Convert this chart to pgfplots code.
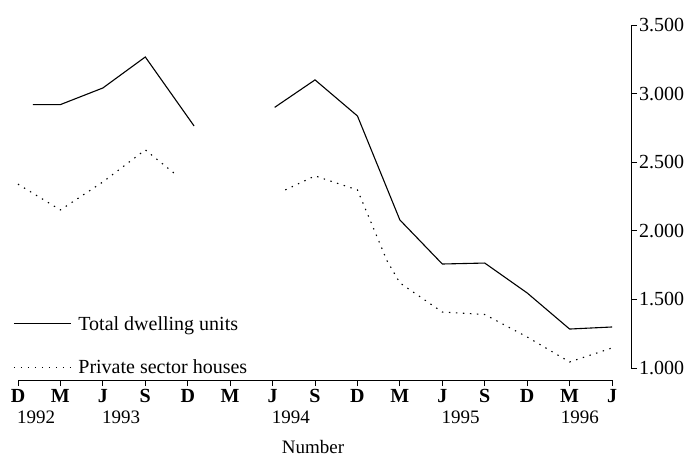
\documentclass[border=0pt]{standalone}
\usepackage{fontspec}
\setmainfont{Liberation Serif}
\usepackage{pgfplots}
\pgfplotsset{compat=1.18}

\begin{document}
\begin{tikzpicture}[font=\fontsize{20}{23}\selectfont]
\begin{axis}[
  at={(18pt,-380pt)}, anchor=south west,
  scale only axis, width=613pt, height=355pt,
  xmin=0, xmax=14.447, ymin=912.5, ymax=3500,
  clip=false,
  axis x line*=bottom, axis y line*=right,
  axis line style={draw=none},
  tick align=outside, major tick length=6pt,
  tick style={black, line width=0.8pt},
  xtick={0,...,14},
  xticklabels={D,M,J,S,D,M,J,S,D,M,J,S,D,M,J},
  x tick label style={font=\fontsize{20}{23}\selectfont\bfseries, anchor=north, inner sep=0pt, yshift=-3pt},
  ytick={1000,1500,2000,2500,3000,3500},
  yticklabels={1.000,1.500,2.000,2.500,3.000,3.500},
  y tick label style={font=\fontsize{20}{23}\selectfont, anchor=west, inner sep=0pt, xshift=2pt},
  extra x ticks={0,2,6,10,13},
  extra x tick labels={1992,1993,1994,1995,\kern-8pt1996},
  extra x tick style={major tick length=0pt,
    x tick label style={font=\fontsize{19}{22}\selectfont\mdseries, anchor=north west, inner sep=0pt, xshift=-1pt, yshift=-28pt}},
  xlabel={Number},
  xlabel style={at={(axis description cs:0.4813,0)}, anchor=north, inner sep=0pt, yshift=-60pt,
    font=\fontsize{19}{22}\selectfont},
  legend style={at={(axis description cs:-0.008,0.186)}, anchor=north west,
    draw=none, fill=none, inner sep=0pt, row sep=24pt,
    font=\fontsize{20}{23}\selectfont, cells={anchor=west}},
  legend image code/.code={\draw[#1] (0pt,0pt) -- (57pt,0pt); \path (62pt,0pt);},
]
\addplot[black, line width=1.1pt, unbounded coords=jump] coordinates {
  (0.35,2920) (1,2920) (2,3041) (3,3267) (4.15,2764)
  (5,nan)
  (6.05,2900) (7,3100) (8,2837) (9,2079) (10,1758) (11,1765) (12,1547) (13,1284) (14,1299)
};
\addlegendentry{Total dwelling units}
\addplot[black, line width=1.1pt, dash pattern=on 1.4pt off 5.6pt, unbounded coords=jump] coordinates {
  (0,2340) (1,2152) (2,2356) (3,2590) (3.7,2415)
  (5,nan)
  (6.3,2298) (7,2400) (8,2298) (8.7,1780) (9,1620) (10,1408) (11,1390) (12,1226) (13,1044) (14,1146)
};
\addlegendentry{Private sector houses}
\draw[line width=1pt] (axis cs:0,912.5) -- (axis cs:14,912.5);
\draw[line width=1pt] (axis cs:14.447,1000) -- (axis cs:14.447,3500);
\end{axis}
\pgfresetboundingbox
\useasboundingbox (0,0) rectangle (693pt,-459pt);
\end{tikzpicture}
\end{document}
